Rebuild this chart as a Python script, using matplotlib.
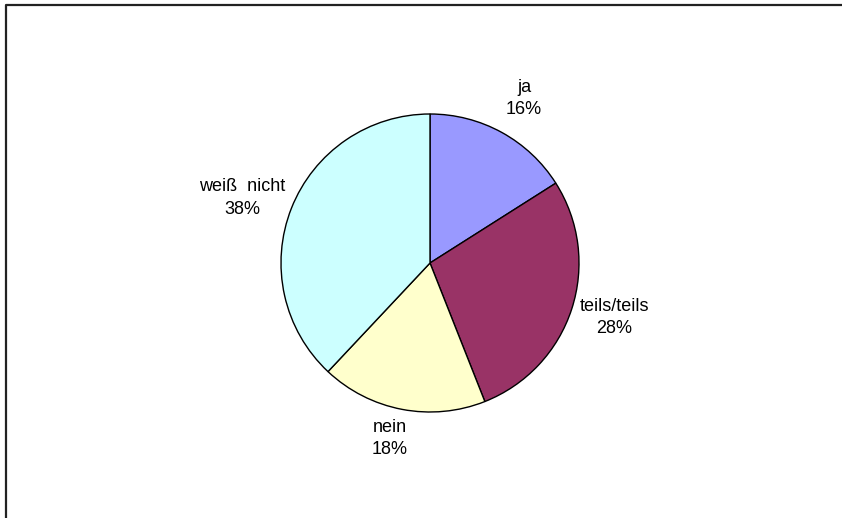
import numpy as np
import matplotlib.pyplot as plt

# Antworten und Anteile (in %)
kategorien = ['ja', 'teils/teils', 'nein', 'weiß  nicht']
anteile = [16, 28, 18, 38]
farben = ['#9999FF', '#993366', '#FFFFCC', '#CCFFFF']

# Lage der Beschriftungen: Abstand (relativ zum Radius) und Winkelversatz
abstand = [1.27, 1.29, 1.21, 1.335]
versatz = [-1.0, 1.6, -2.0, 2.5]

W, H = 842, 518
fig = plt.figure(figsize=(W / 100, H / 100), dpi=100)
ax = fig.add_axes([0, 0, 1, 1])

mitte = (430, H - 263)
radius = 149
wedges, _ = ax.pie(anteile, colors=farben, startangle=90, counterclock=False,
                   center=mitte, radius=radius, frame=True,
                   wedgeprops=dict(edgecolor='black', linewidth=1.0))
ax.set_xlim(0, W)
ax.set_ylim(0, H)
ax.set_aspect('equal')
ax.axis('off')

# Rahmen (nur oben und links sichtbar)
ax.plot([6, 6, W], [0, H - 5, H - 5], color='#222222', lw=1.6)

for w, name, wert, d, dw in zip(wedges, kategorien, anteile, abstand, versatz):
    winkel = np.deg2rad((w.theta1 + w.theta2) / 2 + dw)
    x = mitte[0] + d * radius * np.cos(winkel)
    y = mitte[1] + d * radius * np.sin(winkel)
    ax.text(x, y, f'{name}\n{wert}%', ha='center', va='center',
            fontsize=13, family='Liberation Sans', linespacing=1.4)

fig.savefig('out.png', dpi=100)
